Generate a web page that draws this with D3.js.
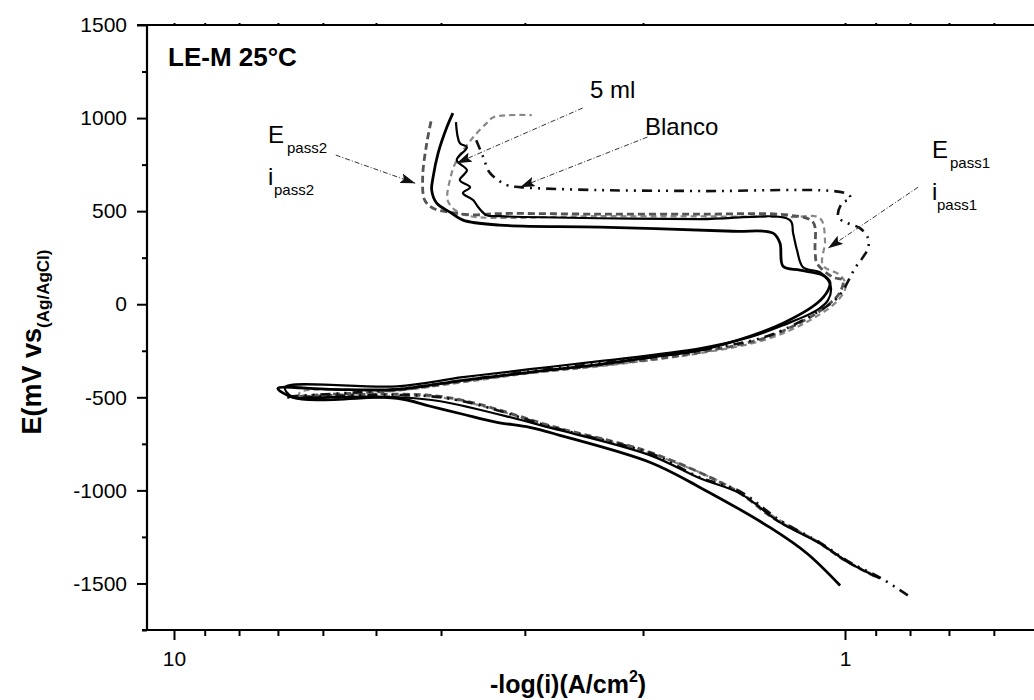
<!DOCTYPE html>
<html>
<head>
<meta charset="utf-8">
<script src="https://cdn.jsdelivr.net/npm/d3@7"></script>
<style>
  body { margin: 0; background: #fff; }
  svg { display: block; font-family: "Liberation Sans", Arial, sans-serif; }
</style>
</head>
<body>
<div></div>
<script>
var outerWidth  = 1034;
var outerHeight = 700;

// polarization curves, points are [i, E (mV)]
var curveA = [[1.017,-1511],[1.139,-1339],[1.294,-1199],[1.645,-984],[1.95,-850],[2.66,-704],[2.95,-661],[3.30,-634],
  [3.71,-591],[4.15,-548],[4.65,-505],[5.86,-500],[6.65,-500],[7.0,-452],[5.86,-457],[4.65,-457],[3.71,-409],
  [2.95,-366],[2.32,-323],[1.95,-285],[1.645,-247],[1.386,-172],[1.237,-102],[1.101,5],[1.06,75],[1.053,118],
  [1.079,156],[1.167,183],[1.237,204],[1.25,328],[1.28,382],[1.469,392],[2.32,414],[3.27,425],[3.71,452],
  [3.88,495],[4.06,543],[4.13,613],[4.11,683],[4.04,812],[3.92,952],[3.84,1027]];

var curveB = [[0.887,-1473],[0.983,-1392],[1.09,-1285],[1.25,-1172],[1.434,-1016],[1.645,-935],[1.95,-812],
  [2.66,-677],[4.01,-521],[4.65,-500],[6.65,-500],[6.83,-446],[4.65,-441],[3.71,-392],[2.95,-349],[2.32,-306],
  [1.645,-237],[1.386,-177],[1.237,-113],[1.101,-32],[1.06,22],[1.049,86],[1.06,129],[1.09,172],[1.155,199],
  [1.179,290],[1.195,382],[1.208,452],[1.645,457],[2.32,462],[3.27,473],[3.42,478],[3.52,521],[3.58,559],
  [3.71,597],[3.62,629],[3.75,667],[3.66,720],[3.79,774],[3.66,844],[3.75,866],[3.80,978]];

var curveC = [[0.902,-1462],[1.0,-1376],[1.108,-1269],[1.271,-1156],[1.458,-1000],[1.95,-796],[2.66,-667],
  [4.01,-495],[6.49,-495],[4.65,-462],[3.71,-414],[2.95,-366],[2.32,-328],[1.645,-258],[1.307,-177],[1.128,-70],
  [1.053,5],[1.017,65],[1.007,129],[1.042,145],[1.101,220],[1.108,290],[1.116,441],[1.208,478],[1.645,484],
  [2.32,484],[3.27,487],[3.6,480],[3.85,492],[4.11,516],[4.23,559],[4.26,683],[4.20,866],[4.13,1000]];

var blanco = [[0.806,-1564],[0.887,-1468],[0.983,-1387],[1.09,-1280],[1.25,-1161],[1.434,-1005],[1.645,-930],
  [1.95,-801],[2.66,-672],[4.01,-500],[6.83,-500],[4.65,-457],[3.71,-409],[2.95,-360],[2.32,-317],[1.645,-247],
  [1.307,-172],[1.128,-65],[1.035,22],[1.007,75],[0.966,194],[0.94,253],[0.924,301],[0.924,355],[0.95,409],
  [0.99,435],[1.024,468],[1.01,543],[0.98,570],[1.0,597],[1.645,608],[2.32,613],[3.05,629],[3.19,640],
  [3.38,704],[3.46,790],[3.56,898]];

var fiveMl = [[0.887,-1468],[1.0,-1376],[1.108,-1269],[1.271,-1145],[1.458,-995],[1.95,-801],[2.66,-672],
  [4.01,-500],[6.49,-500],[6.49,-473],[4.65,-462],[3.71,-419],[2.95,-371],[2.32,-333],[1.645,-263],[1.307,-188],
  [1.128,-86],[1.024,22],[0.997,102],[1.017,156],[1.079,210],[1.071,344],[1.09,462],[1.208,468],[2.32,473],
  [3.62,473],[3.81,505],[3.91,559],[3.88,667],[3.79,774],[3.58,898],[3.42,973],[3.34,1005],[2.93,1016]];

var xMajorTicks = [10, 1];
var xMinorTicks = [9, 8, 7, 6, 5, 4, 3, 2, 0.9, 0.8, 0.7, 0.6, 0.5];
var yMajorTicks = [1500, 1000, 500, 0, -500, -1000, -1500];
var yMinorTicks = [1250, 750, 250, -250, -750, -1250, -1750];

var svg = d3.select("div").append("svg")
  .attr("width", outerWidth)
  .attr("height", outerHeight);

var xScale = d3.scaleLog().domain([10, 1]).range([174, 845]);
var yScale = d3.scaleLinear().domain([-1750, 1500]).range([630, 25]);

var plotLeft = 147, plotTop = yScale(1500), plotBottom = yScale(-1750);

var defs = svg.append("defs");
defs.append("clipPath").attr("id", "plot")
  .append("rect").attr("x", plotLeft).attr("y", plotTop)
  .attr("width", outerWidth - plotLeft).attr("height", plotBottom - plotTop);

defs.append("marker")
  .attr("id", "head").attr("markerUnits", "userSpaceOnUse")
  .attr("markerWidth", 16).attr("markerHeight", 10)
  .attr("refX", 15).attr("refY", 5).attr("orient", "auto")
  .append("path").attr("d", "M0,0 L15,5 L0,10 L3,5 Z").attr("fill", "#111");

// curves
var line = d3.line()
  .x(function(d){ return xScale(d[0]); })
  .y(function(d){ return yScale(d[1]); })
  .curve(d3.curveCatmullRom.alpha(0.5));

var series = [
  { data: fiveMl, stroke: "#888", width: 2.2, dash: "6,4" },
  { data: curveC, stroke: "#555", width: 2.8, dash: "7,4" },
  { data: blanco, stroke: "#111", width: 2.6, dash: "10,6,2,6,2,6" },
  { data: curveB, stroke: "#000", width: 2.2, dash: null },
  { data: curveA, stroke: "#000", width: 2.8, dash: null }
];

var g = svg.append("g").attr("clip-path", "url(#plot)");
g.selectAll("path").data(series).enter().append("path")
  .attr("d", function(d){ return line(d.data); })
  .attr("fill", "none")
  .attr("stroke", function(d){ return d.stroke; })
  .attr("stroke-width", function(d){ return d.width; })
  .attr("stroke-dasharray", function(d){ return d.dash; })
  .attr("stroke-linejoin", "round");

// axes
var fmt = function(d){ return String(d); };
svg.append("g").attr("transform", "translate(0," + plotBottom + ")")
  .call(d3.axisBottom(xScale).tickValues(xMajorTicks).tickFormat(fmt).tickSize(10).tickPadding(11));
svg.append("g").attr("transform", "translate(0," + plotBottom + ")")
  .call(d3.axisBottom(xScale).tickValues(xMinorTicks).tickFormat("").tickSize(6));
svg.append("g").attr("transform", "translate(0," + plotTop + ")")
  .call(d3.axisTop(xScale).tickValues(xMajorTicks.concat(xMinorTicks)).tickFormat("").tickSize(2));

svg.append("g").attr("transform", "translate(" + plotLeft + ",0)")
  .call(d3.axisLeft(yScale).tickValues(yMajorTicks).tickFormat(fmt).tickSize(10).tickPadding(10));
svg.append("g").attr("transform", "translate(" + plotLeft + ",0)")
  .call(d3.axisLeft(yScale).tickValues(yMinorTicks).tickFormat("").tickSize(5));

svg.selectAll(".domain").remove();
svg.selectAll(".tick line").attr("stroke", "#000").attr("stroke-width", 2);
svg.selectAll(".tick text").attr("font-size", 21).attr("fill", "#000")
  .attr("font-family", "'Liberation Sans', Arial, sans-serif");

svg.append("line").attr("x1", plotLeft).attr("x2", plotLeft).attr("y1", plotTop).attr("y2", plotBottom)
  .attr("stroke", "#000").attr("stroke-width", 2.2);
svg.append("line").attr("x1", plotLeft - 5).attr("x2", outerWidth).attr("y1", plotBottom).attr("y2", plotBottom)
  .attr("stroke", "#000").attr("stroke-width", 2.2);
svg.append("line").attr("x1", plotLeft - 10).attr("x2", outerWidth).attr("y1", plotTop).attr("y2", plotTop)
  .attr("stroke", "#000").attr("stroke-width", 2);

// axis titles
var xt = svg.append("text").attr("x", 490).attr("y", 693)
  .attr("font-size", 25).attr("font-weight", "bold");
xt.append("tspan").text("-log(i)(A/cm");
xt.append("tspan").attr("font-size", 16).attr("dy", -11).text("2");
xt.append("tspan").attr("dy", 11).text(")");

var yt = svg.append("text").attr("transform", "translate(41,342) rotate(-90)")
  .attr("text-anchor", "middle").attr("font-size", 27).attr("font-weight", "bold");
yt.append("tspan").text("E(mV vs");
yt.append("tspan").attr("font-size", 17).attr("dy", 8).text("(Ag/AgCl)");

svg.append("text").attr("x", 168).attr("y", 66)
  .attr("font-size", 26).attr("font-weight", "bold").text("LE-M 25°C");

// annotations
var arrows = [
  { from: [5.74, 801], to: [4.37, 650] },
  { from: [2.46, 1054], to: [3.79, 758] },
  { from: [1.97, 898], to: [3.05, 629] },
  { from: [0.778, 629], to: [1.06, 301] }
];
svg.selectAll(".arrow").data(arrows).enter().append("line")
  .attr("class", "arrow")
  .attr("x1", function(d){ return xScale(d.from[0]); })
  .attr("y1", function(d){ return yScale(d.from[1]); })
  .attr("x2", function(d){ return xScale(d.to[0]); })
  .attr("y2", function(d){ return yScale(d.to[1]); })
  .attr("stroke", "#333").attr("stroke-width", 1)
  .attr("stroke-dasharray", "5,2,1,2")
  .attr("marker-end", "url(#head)");

function label(x, y, main, sub, subX, subY){
  svg.append("text").attr("x", x).attr("y", y).attr("font-size", 24).text(main);
  if (sub) svg.append("text").attr("x", subX).attr("y", subY).attr("font-size", 15).text(sub);
}
label(590, 98, "5 ml");
label(645, 135, "Blanco");
label(268, 143, "E", "pass2", 287, 153);
label(268, 185, "i", "pass2", 274, 195);
label(932, 158, "E", "pass1", 950, 168);
label(932, 200, "i", "pass1", 937, 210);
</script>
</body>
</html>
